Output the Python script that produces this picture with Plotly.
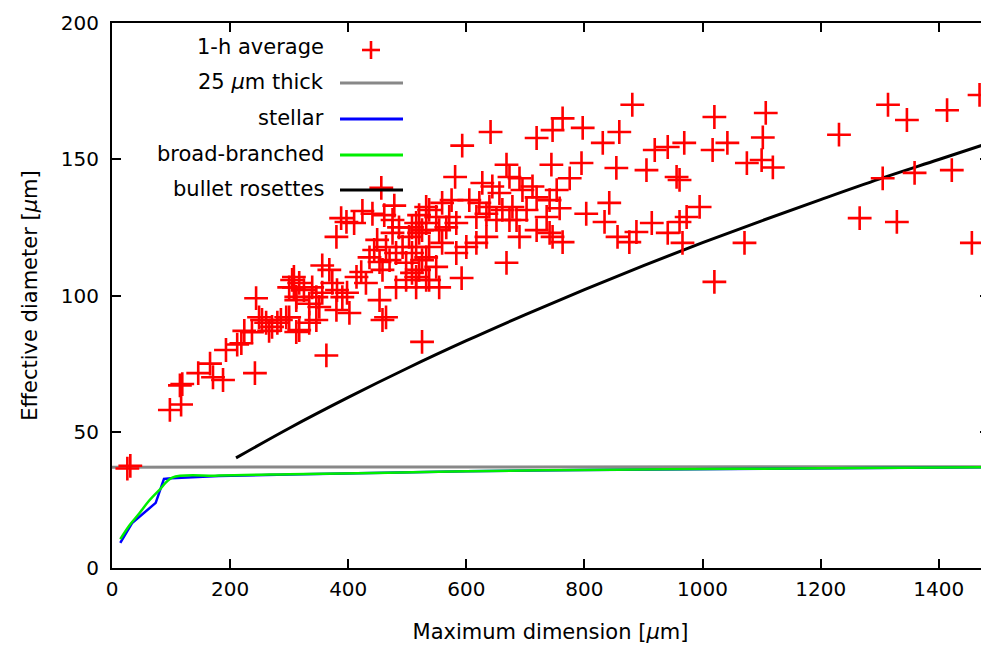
import plotly.graph_objects as go

# ---- data ----
avg_pts = [
    (26, 36.5), (31, 37.5),
    (98, 58), (117, 60), (115, 67), (119, 67.5), (146, 71.5), (166, 75), (171, 70), (188, 69),
    (193, 80), (212, 82), (219, 82.5), (242, 71.5), (244, 99), (224, 87), (237, 86.5), (254, 91),
    (261, 90), (266, 87), (286, 91), (300, 92), (305, 105.7), (308, 103), (312, 99.5), (312, 86.6),
    (249, 92), (271, 88.5), (280, 90),
    (456, 139.5), (388, 128.4), (397, 127), (410, 126.6), (380, 121.5), (424, 131), (441, 130),
    (461, 129.5), (478, 133), (475, 127.7), (486, 125), (532, 132.5), (520, 129.5), (356, 111),
    (368, 109.4), (308, 106.8), (317, 104.6), (300, 103), (325, 102), (339, 103), (346, 99.4),
    (356, 101), (373, 104.6), (381, 102), (390, 99.4), (398, 101), (402, 93.6), (380, 94.7),
    (351, 95.8), (334, 97), (312, 98.3), (295, 92), (317, 87.3), (334, 90), (346, 91), (363, 78),
    (422, 108.6), (430, 104.6), (436, 114), (444, 116.7), (449, 120.4), (453, 112.3), (458, 109.4),
    (464, 117.8), (470, 113), (481, 115.6), (492, 117.8), (498, 112), (508, 115.6), (520, 109.4),
    (532, 114), (481, 103), (498, 105.7), (515, 106.8), (532, 105.7), (453, 98.3), (464, 92),
    (458, 91), (525, 83), (414, 106.8), (475, 123), (503, 121.5), (525, 124), (515, 126.6),
    (641, 160), (593, 155), (719, 157.8), (746, 160.7), (744, 148), (581, 143.5), (668, 148),
    (673, 143.5), (690, 143), (627, 141.3), (644, 140), (656, 137.6), (695, 138.7), (712, 140),
    (719, 136), (741, 135), (753, 138.7), (559, 134), (575, 135), (605, 135), (622, 134),
    (639, 132.5), (661, 131.4), (678, 132.5), (537, 131.4), (549, 128.8), (571, 128.8),
    (583, 126.6), (617, 128.8), (634, 130), (651, 127.7), (673, 127.7), (685, 127.7), (702, 131.4),
    (719, 124), (690, 121.5), (736, 128.8), (746, 121.5), (508, 125), (520, 123), (532, 126.6),
    (554, 124), (566, 125), (515, 117.8), (537, 117.8), (559, 119.3), (583, 115.6), (600, 117.8),
    (617, 119.3), (634, 121.5), (525, 113), (549, 110.5), (508, 108.3), (537, 105.7), (554, 103),
    (515, 103), (592, 106.4), (668, 112),
    (881, 170), (763, 165), (797, 161.5), (831, 156), (859, 160), (1020, 165.5), (795, 148.6),
    (854, 146.8), (905, 146), (775, 143), (758, 132), (803, 130), (842, 134), (834, 127),
    (856, 121.5), (876, 119.6), (888, 123.3), (914, 126.6), (941, 123), (956, 143.5), (961, 142.4),
    (919, 153.4), (941, 154.5), (969, 156), (1017, 153.4), (1042, 156), (995, 132.5), (973, 128.8),
    (961, 127), (966, 119.3), (741, 123), (763, 119.6),
    (1469, 173.6), (1414, 168), (1314, 170), (1346, 164.4), (1231, 159), (1107, 167), (1102, 158),
    (1075, 148.6), (1100, 149.7), (1119, 147), (1071, 119.3), (1305, 143), (1359, 145), (1422, 146),
    (1266, 128.4), (1329, 127), (1456, 119.3), (1020, 105),
]
avg_x = [p[0] for p in avg_pts]
avg_y = [p[1] for p in avg_pts]

thick_x = [0, 1485]
thick_y = [37.0, 37.2]

stellar_x = [14, 34, 74, 88, 100, 181, 300, 469, 600, 800, 1000, 1200, 1485]
stellar_y = [9.2, 16.5, 23.9, 32.7, 32.9, 33.8, 34.3, 35.0, 35.5, 36.0, 36.3, 36.6, 37.0]

broad_x = [14, 30, 46, 62, 80, 102, 181, 300, 469, 600, 800, 1000, 1200, 1485]
broad_y = [10.6, 15.8, 20.0, 24.5, 28.6, 33.2, 33.9, 34.4, 35.0, 35.5, 36.0, 36.3, 36.6, 37.0]

bullet_x = [210, 300, 400, 500, 600, 700, 800, 900, 1000, 1100, 1200, 1300, 1400, 1485]
bullet_y = [40.4, 51.3, 62.6, 73.3, 83.4, 93.0, 102.2, 111.0, 119.4, 127.4, 135.2, 142.8, 149.9, 156.0]

x_ticks = [0, 200, 400, 600, 800, 1000, 1200, 1400]
y_ticks = [0, 50, 100, 150, 200]

legend_labels = ["1-h average", "25 <i>μ</i>m thick", "stellar", "broad-branched", "bullet rosettes"]
legend_colors = ["#ff0000", "#888888", "#0000ff", "#00ee00", "#000000"]

FONT = "DejaVu Sans"

fig = go.Figure()
fig.add_trace(go.Scatter(x=thick_x, y=thick_y, mode="lines",
                         line=dict(color=legend_colors[1], width=3), showlegend=False))
fig.add_trace(go.Scatter(x=stellar_x, y=stellar_y, mode="lines",
                         line=dict(color=legend_colors[2], width=2.5), showlegend=False))
fig.add_trace(go.Scatter(x=broad_x, y=broad_y, mode="lines", line_shape="spline",
                         line=dict(color=legend_colors[3], width=2.5), showlegend=False))
fig.add_trace(go.Scatter(x=bullet_x, y=bullet_y, mode="lines", line_shape="spline",
                         line=dict(color=legend_colors[4], width=3), showlegend=False))
fig.add_trace(go.Scatter(x=avg_x, y=avg_y, mode="markers", cliponaxis=False,
                         marker=dict(symbol="cross-thin", size=17,
                                     line=dict(color="#ff0000", width=2.6)),
                         showlegend=False))

# page body has an 8px margin: target pixel positions are shifted by it
OFF = 8
L, R, T, B = 112 - OFF, 989 - OFF, 23 - OFF, 568 - OFF
W, H = 989, 646

def px(xp):
    return (xp - OFF - L) / (R - L)

def py(yp):
    return (B - (yp - OFF)) / (B - T)

rows = [48, 83, 119, 155, 190]
for i, (lab, col) in enumerate(zip(legend_labels, legend_colors)):
    fig.add_annotation(x=px(326), y=py(rows[i] - 1), xref="paper", yref="paper",
                       text=lab, showarrow=False, xanchor="right", yanchor="middle",
                       font=dict(family=FONT, size=21, color="black"))
    if i == 0:
        fig.add_shape(type="line", xref="paper", yref="paper",
                      x0=px(362), x1=px(380), y0=py(rows[i] + 2), y1=py(rows[i] + 2),
                      line=dict(color=col, width=2.6))
        fig.add_shape(type="line", xref="paper", yref="paper",
                      x0=px(371), x1=px(371), y0=py(rows[i] - 7), y1=py(rows[i] + 11),
                      line=dict(color=col, width=2.6))
    else:
        fig.add_shape(type="line", xref="paper", yref="paper",
                      x0=px(340), x1=px(403), y0=py(rows[i]), y1=py(rows[i]),
                      line=dict(color=col, width=3))

axis_common = dict(showgrid=False, zeroline=False, showline=True, linecolor="black",
                   linewidth=2, mirror="ticks", ticks="inside", ticklen=9, tickwidth=1.5,
                   tickcolor="black", tickfont=dict(family=FONT, size=20, color="black"))

fig.update_xaxes(range=[0, 1485], tickvals=x_ticks, ticktext=[str(v) for v in x_ticks],
                 title=dict(text="Maximum dimension [<i>μ</i>m]",
                            font=dict(family=FONT, size=21, color="black"), standoff=24),
                 ticklabelstandoff=2, **axis_common)
fig.update_yaxes(range=[0, 200], tickvals=y_ticks, ticktext=[str(v) for v in y_ticks],
                 title=dict(text="Effective diameter [<i>μ</i>m]",
                            font=dict(family=FONT, size=21, color="black"), standoff=17),
                 ticklabelstandoff=7, **axis_common)

fig.update_layout(width=W, height=H, plot_bgcolor="white", paper_bgcolor="white",
                  margin=dict(l=L, r=W - R, t=T, b=H - B, autoexpand=False),
                  font=dict(family=FONT, size=20, color="black"))

fig.write_html("out.html")
